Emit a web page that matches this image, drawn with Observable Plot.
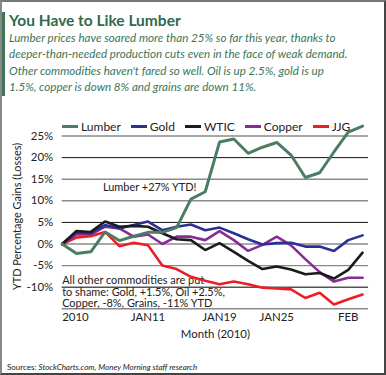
<!DOCTYPE html>
<html>
<head>
<meta charset="utf-8">
<script src="https://cdn.jsdelivr.net/npm/d3@7"></script>
<script src="https://cdn.jsdelivr.net/npm/@observablehq/plot@0.6"></script>
<style>
  html, body { margin: 0; padding: 0; background: #fff; }
  #wrap { position: relative; width: 386px; height: 375px; box-sizing: border-box;
    border-top: 2px solid #777; border-left: 2px solid #888; border-right: 2px solid #444; border-bottom: 2px solid #444;
    font-family: Lato, "Open Sans", sans-serif; overflow: hidden; }
  #bar { position: absolute; left: -2px; top: 10px; width: 5px; height: 84px; background: #3f7356; }
  #title { position: absolute; left: 7px; top: 9px; font-weight: 700; font-size: 15.5px; color: #2f6a4c; }
  #sub { position: absolute; left: 7px; top: 28px; font-style: italic; font-size: 11.6px; line-height: 16.3px; color: #3c7658; white-space: nowrap; }
  #legend { position: absolute; left: 60px; top: 117px; display: flex; gap: 10px; font-size: 12px; color: #222; }
  #legend span.item { display: flex; align-items: center; gap: 3px; }
  #legend span.sw { display: inline-block; width: 16px; height: 3px; }
  #chart { position: absolute; left: -2px; top: 98px; }
  #chart svg { overflow: visible; }
  #src { position: absolute; left: 5px; top: 360px; font-size: 8px; color: #222; }
</style>
</head>
<body>
<div id="wrap">
  <div id="bar"></div>
  <div id="title"></div>
  <div id="sub"></div>
  <div id="legend"></div>
  <div id="chart"></div>
  <div id="src"><span>Sources: </span><i>StockCharts.com, Money Morning staff research</i></div>
</div>
<script>
// ---- data ----
const dates = ["2009-12-31","2010-01-04","2010-01-05","2010-01-06","2010-01-07","2010-01-08",
  "2010-01-11","2010-01-12","2010-01-13","2010-01-14","2010-01-15","2010-01-19","2010-01-20",
  "2010-01-21","2010-01-22","2010-01-25","2010-01-26","2010-01-27","2010-01-28","2010-01-29",
  "2010-02-01","2010-02-02"];
const seriesNames = ["Lumber", "Gold", "WTIC", "Copper", "JJG"];
const lumber = [0, -2.2, -1.8, 2.8, 0.8, 1.8, 2.7, 2.7, 3.8, 10.4, 12.1, 23.6, 24.3, 21.0, 22.4, 23.5, 20.6, 15.4, 16.5, 21.3, 25.9, 27.3];
const gold   = [0, 2.7, 2.5, 4.4, 3.6, 4.4, 5.2, 3.2, 4.0, 4.5, 3.2, 3.8, 2.5, 1.1, -0.1, 0.2, 0.3, -0.6, -0.6, -1.6, 0.9, 2.0];
const wtic   = [0, 3.0, 2.8, 5.2, 4.0, 4.2, 4.0, 2.5, 1.1, 0.9, -1.4, 0.2, -1.8, -3.9, -5.8, -5.2, -5.9, -7.0, -6.7, -8.0, -6.0, -2.0];
const copper = [0, 2.2, 2.2, 4.0, 3.6, 1.7, 2.2, 0.0, 1.7, 1.7, 0.9, 3.0, 0.9, -1.6, -0.2, 1.7, -0.3, -3.5, -6.5, -8.7, -7.8, -7.8];
const jjg    = [0, 1.5, 1.8, 2.8, -0.5, 0.3, -0.3, -5.0, -5.8, -7.6, -8.5, -9.3, -8.7, -9.3, -10.1, -10.3, -10.5, -12.5, -11.3, -14.0, -12.8, -11.7];
const xTickDates = ["2009-12-31", "2010-01-11", "2010-01-19", "2010-01-25", "2010-02-01"];
const xTickLabels = ["2010", "JAN11", "JAN19", "JAN25", "FEB"];
const yTicks = [-10, -5, 0, 5, 10, 15, 20, 25];
const gridValues = [-15, -10, -5, 0, 5, 10, 15, 20, 25];
const yTitle = "YTD Percentage Gains (Losses)";
const xTitle = "Month (2010)";
const lumberNote = "Lumber +27% YTD!";
const lumberNoteAt = {index: 2.85, value: 13.1};
const otherNote = ["All other commodities are put", "to shame: Gold, +1.5%, Oil +2.5%,", "Copper, -8%, Grains, -11% YTD"];
const otherNoteAt = {index: 0, value: -7.3};
const titleText = "You Have to Like Lumber";
const subLines = [
  "Lumber prices have soared more than 25% so far this year, thanks to",
  "deeper-than-needed production cuts even in the face of weak demand.",
  "Other commodities haven't fared so well. Oil is up 2.5%, gold is up",
  "1.5%, copper is down 8% and grains are down 11%."
];

// ---- styles ----
const colors = {Lumber: "#4b7d63", Gold: "#2c2f96", WTIC: "#1b1b1b", Copper: "#8a2b93", JJG: "#ee1d25"};
const widths = {Lumber: 3, Gold: 2.6, WTIC: 2.6, Copper: 2.6, JJG: 2.6};

document.getElementById("title").textContent = titleText;
document.getElementById("sub").innerHTML = subLines.join("<br>");
const leg = document.getElementById("legend");
for (const n of seriesNames) {
  const it = document.createElement("span"); it.className = "item";
  const sw = document.createElement("span"); sw.className = "sw"; sw.style.background = colors[n];
  const tx = document.createElement("span"); tx.textContent = n;
  it.appendChild(sw); it.appendChild(tx); leg.appendChild(it);
}

const idx = d => dates.indexOf(d);
const table = {Lumber: lumber, Gold: gold, WTIC: wtic, Copper: copper, JJG: jjg};
const rows = name => table[name].map((v, i) => ({name, i, date: dates[i], v}));
const drawOrder = ["JJG", "Copper", "Gold", "WTIC", "Lumber"];

const chart = Plot.plot({
  width: 386, height: 250,
  marginLeft: 62, marginRight: 16, marginTop: 35.7, marginBottom: 40.6,
  x: {domain: [0, 21.42], axis: null},
  y: {domain: [-15, 25], axis: null},
  style: {fontFamily: "Lato, 'Open Sans', sans-serif", background: "transparent", color: "#222"},
  marks: [
    Plot.ruleY(gridValues, {stroke: d => (d === 20 || d === 5) ? "#111" : (d === -10 ? "#555" : "#8a8a8a"), strokeWidth: d => (d === 20 || d === 5) ? 1 : 1.4}),
    Plot.axisY(yTicks, {tickSize: 0, tickPadding: 9, tickFormat: d => d + "%", fontSize: 11.5, label: null}),
    Plot.text([yTitle], {frameAnchor: "left", text: d => d, rotate: -90, textAnchor: "middle", lineAnchor: "middle", dx: -45, dy: -6, fontSize: 11}),
    Plot.text([xTickDates[0]], {x: d => idx(d), frameAnchor: "bottom", textAnchor: "start", dy: 12.5, text: () => xTickLabels[0], fontSize: 11.5}),
    Plot.text(xTickDates.slice(1), {x: d => idx(d), frameAnchor: "bottom", dy: 12.5, text: (d, i) => xTickLabels[i + 1], fontSize: 11.5}),
    Plot.text([xTitle], {frameAnchor: "bottom", dy: 29, text: d => d, fontSize: 11.5}),
    Plot.text([lumberNote], {x: lumberNoteAt.index, y: lumberNoteAt.value, text: d => d, textAnchor: "start", fontSize: 11}),
    Plot.text([otherNote.join("\n")], {x: otherNoteAt.index, y: otherNoteAt.value, text: d => d, textAnchor: "start", lineAnchor: "top", lineHeight: 1.07, fontSize: 11}),
    ...drawOrder.map(n => Plot.lineY(rows(n), {x: "i", y: "v", stroke: colors[n], strokeWidth: widths[n], strokeLinejoin: "miter"}))
  ]
});
document.getElementById("chart").appendChild(chart);
</script>
</body>
</html>
